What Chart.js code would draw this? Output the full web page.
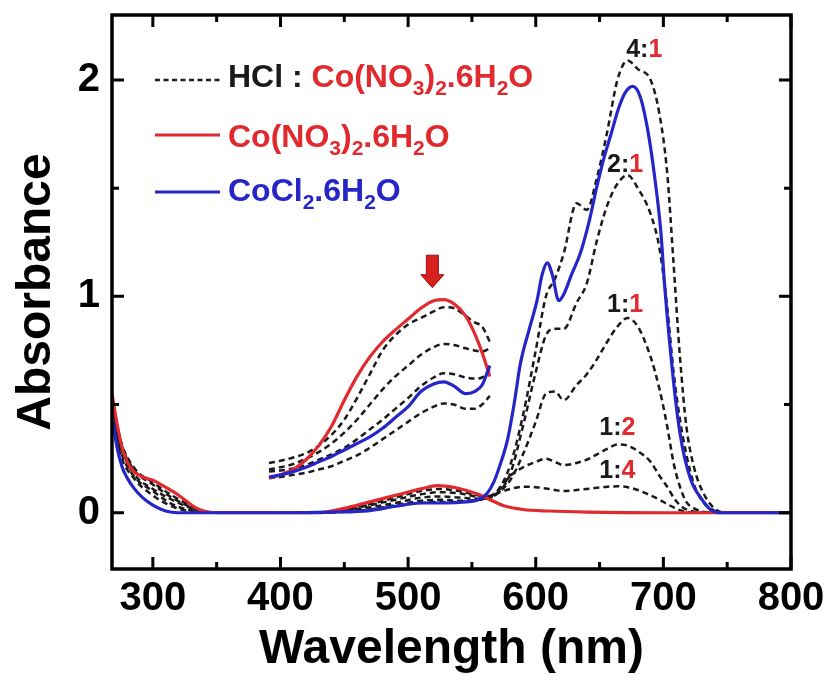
<!DOCTYPE html>
<html>
<head>
<meta charset="utf-8">
<script src="https://cdn.jsdelivr.net/npm/chart.js@4.4.1/dist/chart.umd.min.js"></script>
<style>
  body { margin: 0; background: #fff; }
  canvas { display: block; }
</style>
</head>
<body>
<canvas id="spectra" width="827" height="687"></canvas>
<script>
// --- data ---
const redWl  = [268, 272, 276, 280, 285, 292, 300, 308, 318, 326, 333, 340, 350, 430, 450, 470, 490, 510, 523, 540, 555, 565, 575, 590, 610, 640, 700, 800];
const redAbs = [0.55, 0.41, 0.3, 0.235, 0.19, 0.165, 0.15, 0.125, 0.09, 0.055, 0.025, 0.008, 0, 0, 0.02, 0.05, 0.08, 0.11, 0.125, 0.112, 0.085, 0.058, 0.032, 0.015, 0.008, 0.003, 0, 0];

const blueWl  = [268, 272, 276, 280, 285, 292, 300, 310, 320, 400, 440, 470, 490, 510, 530, 545, 555, 562, 567, 572, 578, 583, 588, 595, 601, 605, 609, 613, 618, 622, 628, 635, 642, 648, 653, 659, 665, 670, 676, 682, 688, 693, 698, 701, 706, 711, 715, 719, 723, 728, 737, 745, 800];
const blueAbs = [0.45, 0.3, 0.21, 0.16, 0.115, 0.07, 0.035, 0.008, 0, 0, 0.003, 0.01, 0.03, 0.045, 0.045, 0.05, 0.06, 0.09, 0.14, 0.22, 0.34, 0.5, 0.69, 0.85, 0.98, 1.1, 1.155, 1.1, 0.98, 1.01, 1.1, 1.2, 1.35, 1.51, 1.63, 1.75, 1.87, 1.94, 1.97, 1.92, 1.76, 1.56, 1.3, 1.05, 0.72, 0.45, 0.3, 0.2, 0.13, 0.08, 0.014, 0, 0];

// HCl : Co(NO3)2 mixtures
const ratioWl = [268, 275, 285, 300, 315, 330, 340, 400, 430, 450, 470, 490, 510, 525, 540, 555, 562, 570, 580, 590, 600, 608, 615, 622, 632, 640, 648, 656, 664, 672, 680, 690, 697, 703, 708, 713, 718, 724, 731, 740, 750, 800];
const abs41 = [0.43, 0.26, 0.16, 0.08, 0.03, 0.005, 0, 0, 0, 0.005, 0.015, 0.03, 0.045, 0.05, 0.05, 0.06, 0.07, 0.1, 0.22, 0.45, 0.75, 1.0, 1.08, 1.2, 1.43, 1.4, 1.55, 1.76, 2.0, 2.09, 2.05, 2.0, 1.84, 1.57, 1.15, 0.72, 0.4, 0.21, 0.095, 0.02, 0, 0];
const abs21 = [0.45, 0.28, 0.17, 0.1, 0.04, 0.01, 0, 0, 0, 0.005, 0.015, 0.035, 0.055, 0.06, 0.055, 0.06, 0.065, 0.09, 0.18, 0.4, 0.65, 0.82, 0.85, 0.85, 0.97, 1.06, 1.26, 1.42, 1.52, 1.56, 1.5, 1.38, 1.22, 0.95, 0.65, 0.43, 0.27, 0.13, 0.05, 0.01, 0, 0];
const abs11 = [0.47, 0.3, 0.18, 0.11, 0.06, 0.02, 0, 0, 0, 0.008, 0.025, 0.045, 0.07, 0.075, 0.07, 0.065, 0.065, 0.09, 0.15, 0.27, 0.42, 0.55, 0.56, 0.52, 0.59, 0.64, 0.71, 0.79, 0.86, 0.9, 0.86, 0.72, 0.57, 0.4, 0.23, 0.12, 0.05, 0.02, 0.005, 0, 0, 0];
const abs12 = [0.5, 0.32, 0.2, 0.13, 0.07, 0.025, 0, 0, 0, 0.012, 0.035, 0.06, 0.085, 0.095, 0.09, 0.075, 0.075, 0.1, 0.17, 0.21, 0.235, 0.25, 0.235, 0.22, 0.23, 0.245, 0.27, 0.295, 0.315, 0.31, 0.285, 0.235, 0.17, 0.12, 0.07, 0.035, 0.015, 0.005, 0, 0, 0, 0];
const abs14 = [0.52, 0.33, 0.21, 0.14, 0.08, 0.03, 0, 0, 0, 0.015, 0.04, 0.07, 0.1, 0.11, 0.1, 0.08, 0.075, 0.09, 0.11, 0.12, 0.118, 0.112, 0.105, 0.1, 0.105, 0.11, 0.115, 0.12, 0.122, 0.118, 0.105, 0.08, 0.06, 0.04, 0.025, 0.012, 0.005, 0, 0, 0, 0, 0];

// magnified 400-565 nm region, drawn in the main axes
const insetWl   = [391, 400, 410, 420, 430, 440, 450, 460, 470, 480, 490, 500, 510, 520, 528, 536, 545, 552, 558, 564];
const insetRed  = [0.16, 0.175, 0.2, 0.245, 0.31, 0.4, 0.52, 0.63, 0.72, 0.79, 0.845, 0.895, 0.945, 0.98, 0.985, 0.965, 0.91, 0.83, 0.74, 0.63];
const insetBlue = [0.165, 0.175, 0.19, 0.21, 0.235, 0.26, 0.29, 0.32, 0.35, 0.39, 0.44, 0.49, 0.56, 0.595, 0.605, 0.585, 0.55, 0.56, 0.59, 0.68];
const insetD1   = [0.23, 0.24, 0.255, 0.275, 0.31, 0.36, 0.43, 0.53, 0.64, 0.75, 0.82, 0.87, 0.9, 0.93, 0.95, 0.945, 0.91, 0.88, 0.86, 0.79];
const insetD2   = [0.2, 0.21, 0.225, 0.25, 0.28, 0.32, 0.37, 0.43, 0.5, 0.57, 0.63, 0.68, 0.73, 0.765, 0.78, 0.775, 0.76, 0.75, 0.745, 0.76];
const insetD3   = [0.19, 0.195, 0.205, 0.22, 0.245, 0.27, 0.3, 0.34, 0.385, 0.43, 0.48, 0.53, 0.585, 0.625, 0.645, 0.64, 0.625, 0.62, 0.625, 0.66];
const insetD4   = [0.16, 0.165, 0.175, 0.185, 0.2, 0.215, 0.24, 0.265, 0.3, 0.34, 0.38, 0.42, 0.46, 0.49, 0.505, 0.5, 0.48, 0.48, 0.5, 0.54];

const xMajor = [300, 400, 500, 600, 700, 800];
const xMinor = [350, 450, 550, 650, 750];
const yMajor = [0, 1, 2];
const yMinor = [0.5, 1.5];

const RED = '#e02a2e';
const BLUE = '#2626c8';
const BLACK = '#1a1a1a';
const FONT = 'Arial, "Liberation Sans", sans-serif';

function pts(xs, ys) {
    return xs.map((x, i) => ({x: x, y: ys[i]}));
}

function solid(xs, ys, color) {
    return {data: pts(xs, ys), borderColor: color, borderWidth: 3.2, pointRadius: 0, cubicInterpolationMode: 'monotone'};
}

function dashed(xs, ys) {
    return {data: pts(xs, ys), borderColor: BLACK, borderWidth: 2.5, borderDash: [6, 4], pointRadius: 0, cubicInterpolationMode: 'monotone'};
}

// first dataset ends up on top
const datasets = [
    solid(blueWl, blueAbs, BLUE),
    solid(insetWl, insetBlue, BLUE),
    solid(redWl, redAbs, RED),
    solid(insetWl, insetRed, RED),
    dashed(ratioWl, abs41),
    dashed(ratioWl, abs21),
    dashed(ratioWl, abs11),
    dashed(ratioWl, abs12),
    dashed(ratioWl, abs14),
    dashed(insetWl, insetD1),
    dashed(insetWl, insetD2),
    dashed(insetWl, insetD3),
    dashed(insetWl, insetD4)
];

function richText(ctx, x, y, parts, size) {
    for (const [txt, color, sub] of parts) {
        const s = sub ? Math.round(size * 0.66) : size;
        ctx.font = 'bold ' + s + 'px ' + FONT;
        ctx.fillStyle = color;
        ctx.fillText(txt, x, sub ? y + size * 0.26 : y);
        x += ctx.measureText(txt).width;
    }
    return x;
}

function measureRich(ctx, parts, size) {
    let w = 0;
    for (const [txt, , sub] of parts) {
        const s = sub ? Math.round(size * 0.66) : size;
        ctx.font = 'bold ' + s + 'px ' + FONT;
        w += ctx.measureText(txt).width;
    }
    return w;
}

const nitrate = [['Co(NO', RED], ['3', RED, true], [')', RED], ['2', RED, true], ['.6H', RED], ['2', RED, true], ['O', RED]];
const chloride = [['CoCl', BLUE], ['2', BLUE, true], ['.6H', BLUE], ['2', BLUE, true], ['O', BLUE]];

const ratioLabels = [
    {a: '4', b: '1', x: 685, y: 2.106},
    {a: '2', b: '1', x: 670, y: 1.575},
    {a: '1', b: '1', x: 670, y: 0.928},
    {a: '1', b: '2', x: 664, y: 0.36},
    {a: '1', b: '4', x: 664, y: 0.162}
];

const decorPlugin = {
    id: 'decor',
    afterDatasetsDraw(chart) {
        const {ctx, chartArea: a, scales: {x, y}} = chart;
        ctx.save();
        ctx.strokeStyle = '#000';
        ctx.lineWidth = 3.5;
        ctx.strokeRect(a.left, a.top, a.right - a.left, a.bottom - a.top);

        ctx.lineWidth = 3;
        ctx.beginPath();
        for (const v of xMajor.concat(xMinor)) {
            const len = xMajor.includes(v) ? 12 : 7;
            const px = x.getPixelForValue(v);
            ctx.moveTo(px, a.bottom); ctx.lineTo(px, a.bottom - len);
            ctx.moveTo(px, a.top); ctx.lineTo(px, a.top + len);
        }
        for (const v of yMajor.concat(yMinor)) {
            const len = yMajor.includes(v) ? 12 : 7;
            const py = y.getPixelForValue(v);
            ctx.moveTo(a.left, py); ctx.lineTo(a.left + len, py);
            ctx.moveTo(a.right, py); ctx.lineTo(a.right - len, py);
        }
        ctx.stroke();

        // legend
        ctx.textBaseline = 'alphabetic';
        ctx.textAlign = 'left';
        const lx0 = a.left + 43, lx1 = a.left + 108, tx = a.left + 116;
        ctx.lineWidth = 2.5;
        ctx.strokeStyle = BLACK;
        ctx.setLineDash([5, 3.5]);
        ctx.beginPath(); ctx.moveTo(lx0, a.top + 65); ctx.lineTo(lx1, a.top + 65); ctx.stroke();
        ctx.setLineDash([]);
        ctx.lineWidth = 3;
        ctx.strokeStyle = RED;
        ctx.beginPath(); ctx.moveTo(lx0, a.top + 120); ctx.lineTo(lx1, a.top + 120); ctx.stroke();
        ctx.strokeStyle = BLUE;
        ctx.beginPath(); ctx.moveTo(lx0, a.top + 177); ctx.lineTo(lx1, a.top + 177); ctx.stroke();
        richText(ctx, tx, a.top + 72, [['HCl : ', BLACK]].concat(nitrate), 32);
        richText(ctx, tx, a.top + 132, nitrate, 32);
        richText(ctx, tx, a.top + 186, chloride, 32);

        // ratio labels
        for (const r of ratioLabels) {
            const parts = [[r.a + ':', BLACK], [r.b, RED]];
            const w = measureRich(ctx, parts, 25);
            richText(ctx, x.getPixelForValue(r.x) - w / 2, y.getPixelForValue(r.y), parts, 25);
        }

        // arrow marking the nitrate band
        const ax = x.getPixelForValue(519);
        const top = y.getPixelForValue(1.19), tip = y.getPixelForValue(1.04);
        const neck = top + (tip - top) * 0.6;
        ctx.fillStyle = '#d8201e';
        ctx.strokeStyle = '#9a1010';
        ctx.lineWidth = 1;
        ctx.beginPath();
        ctx.moveTo(ax - 6, top); ctx.lineTo(ax + 6, top); ctx.lineTo(ax + 6, neck);
        ctx.lineTo(ax + 11.5, neck); ctx.lineTo(ax, tip); ctx.lineTo(ax - 11.5, neck);
        ctx.lineTo(ax - 6, neck); ctx.closePath();
        ctx.fill(); ctx.stroke();
        ctx.restore();
    }
};

new Chart(document.getElementById('spectra'), {
    type: 'line',
    data: {datasets: datasets},
    plugins: [decorPlugin],
    options: {
        responsive: false,
        animation: false,
        devicePixelRatio: 1,
        layout: {padding: {top: 15, right: 36, left: 0, bottom: 0}},
        plugins: {legend: {display: false}, tooltip: {enabled: false}},
        scales: {
            x: {
                type: 'linear',
                min: 268,
                max: 800,
                grid: {display: false, drawTicks: false},
                border: {display: false},
                ticks: {stepSize: 100, includeBounds: false, color: '#000', padding: 6, maxRotation: 0,
                        font: {family: FONT, size: 40, weight: 'bold'}},
                title: {display: true, text: 'Wavelength (nm)', color: '#000', padding: {top: 0, bottom: 8},
                        font: {family: FONT, size: 48, weight: 'bold'}},
                afterFit(scale) {
                    scale.height = 118;
                    scale.paddingLeft = 0;
                    scale.paddingRight = 0;
                }
            },
            y: {
                type: 'linear',
                min: -0.26,
                max: 2.3,
                grid: {display: false, drawTicks: false},
                border: {display: false},
                ticks: {stepSize: 1, includeBounds: false, color: '#000', padding: 12,
                        font: {family: FONT, size: 40, weight: 'bold'}},
                title: {display: true, text: 'Absorbance', color: '#000', padding: {top: 8, bottom: 0},
                        font: {family: FONT, size: 48, weight: 'bold'}},
                afterFit(scale) {
                    scale.width = 112;
                    scale.paddingTop = 0;
                    scale.paddingBottom = 0;
                }
            }
        }
    }
});
</script>
</body>
</html>
